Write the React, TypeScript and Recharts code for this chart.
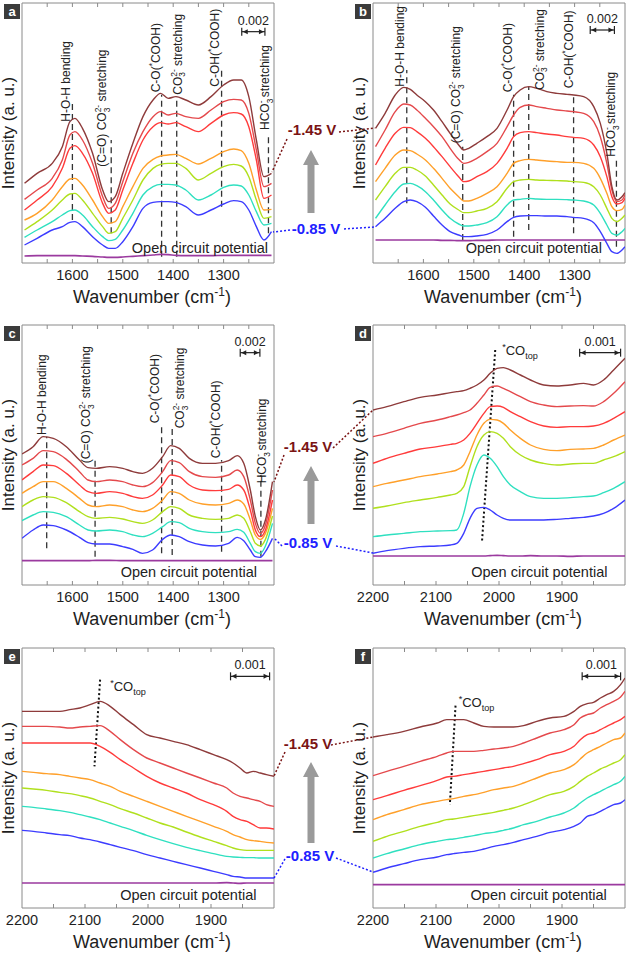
import React from 'react';
import { LineChart, Line, XAxis, YAxis, ReferenceLine, ReferenceArea, ReferenceDot } from 'recharts';

const FONT = '"Liberation Sans", Arial, Helvetica, sans-serif';

// series order: -0.85 V (blue) ... -1.45 V (dark red)
const COLORS = ['#3c3cff', '#2fe0c0', '#b0e01e', '#ffa02a', '#ff3b3b', '#e4494c', '#8e3b3b'];
const OCP_COLOR = '#9b3a9f';

// ---- panel a (1700-1200 cm-1)
const A_WN = [1695, 1670, 1640, 1620, 1605, 1595, 1580, 1560, 1540, 1528, 1515, 1500, 1480, 1460, 1440, 1425, 1410, 1395, 1375, 1350, 1325, 1300, 1280, 1265, 1250, 1235, 1220, 1205];
const A_145 = [239, 269, 299, 349, 424, 434, 404, 329, 219, 184, 199, 269, 359, 439, 489, 509, 494, 499, 489, 474, 499, 534, 549, 549, 499, 369, 259, 269];
const A_135 = [191, 219, 254, 309, 384, 394, 369, 299, 199, 164, 179, 244, 329, 394, 439, 454, 444, 449, 439, 434, 459, 484, 491, 489, 449, 339, 229, 239];
const A_125 = [159, 189, 229, 284, 344, 352, 329, 269, 179, 149, 159, 219, 299, 369, 409, 421, 417, 421, 409, 394, 419, 444, 451, 447, 409, 309, 194, 204];
const A_115 = [129, 149, 189, 229, 252, 254, 234, 189, 139, 119, 124, 169, 229, 284, 311, 321, 324, 326, 314, 297, 314, 334, 342, 337, 299, 219, 159, 161];
const A_105 = [99, 124, 159, 189, 207, 209, 189, 149, 109, 89, 94, 134, 189, 249, 284, 296, 299, 299, 284, 249, 269, 289, 296, 291, 259, 189, 134, 139];
const A_095 = [77, 99, 124, 144, 157, 159, 144, 109, 79, 67, 71, 99, 149, 204, 229, 236, 236, 234, 219, 189, 204, 227, 234, 231, 204, 154, 114, 119];
const A_085 = [54, 74, 99, 109, 122, 124, 109, 79, 54, 44, 44, 64, 109, 164, 182, 184, 184, 182, 169, 144, 159, 177, 187, 184, 159, 109, 69, 94];
const A_OCP = [21, 22, 22, 22, 22, 22, 21, 20, 18, 17, 17, 18, 20, 22, 24, 26, 25, 23, 22, 22, 22, 23, 23, 23, 23, 23, 23, 23];

// ---- panel b
const B_WN = [1695, 1676, 1656, 1639, 1626, 1613, 1596, 1580, 1563, 1547, 1530, 1520, 1510, 1494, 1474, 1454, 1434, 1421, 1408, 1391, 1375, 1355, 1335, 1315, 1302, 1282, 1262, 1249, 1236, 1226, 1216, 1206, 1200];
const B_145 = [404, 449, 504, 527, 521, 504, 484, 459, 424, 389, 354, 339, 344, 359, 379, 404, 459, 499, 519, 529, 524, 514, 509, 506, 504, 499, 469, 419, 329, 229, 189, 199, 211];
const B_135 = [349, 399, 454, 477, 474, 459, 434, 409, 379, 344, 311, 299, 302, 314, 334, 359, 409, 444, 467, 474, 469, 464, 459, 456, 454, 449, 424, 379, 299, 219, 184, 189, 204];
const B_125 = [294, 344, 389, 407, 406, 394, 374, 349, 319, 289, 259, 244, 246, 259, 274, 299, 344, 379, 391, 394, 391, 387, 384, 379, 377, 374, 354, 319, 259, 199, 177, 181, 194];
const B_115 = [244, 284, 324, 339, 337, 327, 309, 284, 254, 224, 199, 186, 186, 194, 209, 229, 269, 299, 307, 311, 309, 306, 304, 302, 302, 299, 284, 254, 209, 169, 157, 161, 174];
const B_105 = [189, 229, 269, 287, 287, 279, 261, 234, 204, 177, 159, 151, 151, 156, 164, 184, 224, 244, 249, 251, 249, 248, 247, 246, 244, 242, 229, 204, 164, 134, 124, 134, 144];
const B_095 = [134, 174, 214, 237, 239, 232, 214, 189, 159, 134, 117, 111, 111, 114, 121, 139, 174, 189, 191, 194, 192, 191, 191, 190, 189, 186, 174, 149, 114, 89, 84, 94, 104];
const B_085 = [109, 134, 164, 184, 189, 184, 167, 141, 114, 94, 84, 79, 79, 81, 86, 99, 124, 137, 141, 142, 142, 141, 141, 139, 137, 134, 121, 94, 59, 34, 29, 39, 49];
const B_OCP = [69, 69, 69, 69, 69, 69, 69, 69, 68, 68, 67, 67, 67, 68, 68, 69, 69, 69, 69, 69, 69, 69, 69, 69, 69, 69, 69, 69, 69, 69, 69, 69, 69];

// ---- panel c
const C_WN = [1700, 1678, 1658, 1638, 1612, 1586, 1569, 1553, 1526, 1500, 1480, 1461, 1441, 1421, 1405, 1388, 1368, 1342, 1316, 1290, 1273, 1260, 1247, 1237, 1227, 1217, 1203];
const C_145 = [393, 415, 445, 440, 415, 375, 352, 350, 355, 350, 340, 335, 350, 385, 418, 410, 380, 365, 365, 373, 388, 365, 285, 205, 165, 195, 310];
const C_135 = [360, 380, 403, 400, 377, 340, 315, 310, 315, 310, 300, 295, 307, 340, 373, 367, 340, 325, 323, 330, 345, 325, 255, 185, 155, 180, 285];
const C_125 = [315, 340, 360, 358, 335, 300, 280, 275, 280, 275, 265, 260, 270, 300, 330, 325, 300, 285, 283, 287, 300, 285, 225, 165, 145, 165, 255];
const C_115 = [275, 295, 310, 310, 290, 260, 240, 235, 240, 235, 225, 220, 230, 255, 280, 275, 255, 243, 240, 245, 255, 243, 195, 150, 137, 155, 230];
const C_105 = [235, 255, 265, 263, 247, 220, 205, 200, 203, 198, 190, 185, 195, 220, 235, 230, 210, 200, 197, 200, 210, 200, 160, 125, 117, 137, 207];
const C_095 = [193, 210, 220, 218, 205, 180, 165, 162, 165, 160, 150, 145, 155, 175, 190, 187, 170, 160, 157, 160, 167, 158, 125, 100, 95, 117, 185];
const C_085 = [140, 165, 180, 178, 165, 143, 127, 123, 123, 115, 107, 95, 105, 137, 150, 145, 130, 120, 117, 125, 143, 133, 105, 85, 83, 100, 140];
const C_OCP = [73, 73, 73, 73, 73, 73, 73, 74, 74, 73, 73, 73, 73, 73, 73, 73, 73, 73, 73, 73, 73, 73, 73, 73, 73, 73, 73];

// ---- panel d (2200-1800 cm-1)
const D_WN = [2200, 2178, 2151, 2125, 2098, 2077, 2067, 2056, 2046, 2035, 2024, 2014, 2003, 1993, 1982, 1966, 1950, 1929, 1908, 1887, 1866, 1850, 1834, 1818, 1800];
const D_145 = [525, 535, 550, 563, 570, 577, 580, 583, 590, 600, 615, 635, 650, 652, 645, 630, 615, 600, 597, 600, 605, 600, 615, 645, 680];
const D_135 = [445, 455, 470, 485, 495, 505, 510, 517, 525, 545, 570, 593, 597, 590, 580, 565, 550, 540, 535, 537, 538, 537, 550, 575, 610];
const D_125 = [365, 380, 395, 408, 415, 422, 425, 435, 455, 485, 515, 535, 537, 533, 520, 505, 490, 477, 473, 475, 475, 477, 485, 500, 520];
const D_115 = [295, 305, 315, 325, 333, 340, 345, 360, 400, 450, 485, 497, 495, 485, 465, 440, 420, 407, 403, 407, 408, 410, 420, 435, 450];
const D_105 = [230, 237, 247, 255, 263, 270, 275, 295, 355, 415, 450, 460, 455, 440, 415, 390, 375, 365, 360, 363, 365, 365, 375, 385, 400];
const D_095 = [145, 150, 155, 160, 162, 163, 165, 215, 295, 360, 390, 380, 355, 325, 300, 280, 265, 260, 260, 262, 265, 267, 277, 290, 310];
const D_085 = [95, 103, 110, 115, 117, 120, 125, 155, 200, 230, 233, 225, 210, 200, 195, 195, 195, 195, 197, 200, 203, 207, 215, 230, 255];
const D_OCP = [87, 87, 87, 87, 87, 87, 87, 87, 87, 87, 87, 88, 89, 88, 87, 87, 88, 87, 87, 86, 87, 87, 87, 87, 87];

// ---- panel e
const E_WN = [2200, 2182, 2161, 2140, 2124, 2108, 2092, 2076, 2060, 2044, 2023, 2002, 1981, 1960, 1939, 1917, 1896, 1875, 1865, 1854, 1843, 1833, 1822, 1812, 1800];
const E_145 = [590, 590, 590, 590, 595, 600, 610, 620, 605, 580, 550, 520, 510, 500, 490, 475, 460, 445, 435, 420, 405, 410, 405, 400, 395];
const E_135 = [545, 545, 545, 543, 540, 543, 545, 547, 530, 505, 475, 450, 435, 420, 405, 390, 375, 360, 345, 335, 330, 325, 320, 310, 305];
const E_125 = [495, 495, 495, 495, 495, 495, 495, 485, 467, 445, 420, 395, 375, 360, 345, 325, 310, 290, 275, 265, 260, 250, 240, 240, 237];
const E_115 = [410, 407, 403, 400, 395, 390, 385, 375, 365, 350, 335, 320, 305, 290, 275, 260, 245, 230, 220, 213, 205, 202, 200, 197, 195];
const E_105 = [360, 357, 353, 347, 343, 337, 330, 320, 310, 298, 285, 270, 255, 243, 228, 213, 200, 187, 180, 175, 173, 173, 173, 173, 173];
const E_095 = [305, 302, 297, 292, 287, 280, 273, 265, 255, 245, 232, 218, 205, 193, 182, 172, 163, 155, 153, 152, 151, 151, 150, 150, 150];
const E_085 = [233, 230, 225, 220, 217, 210, 205, 198, 190, 182, 172, 160, 150, 140, 130, 120, 110, 100, 95, 93, 90, 90, 90, 90, 90];
const E_OCP = [75, 75, 75, 75, 75, 75, 75, 75, 75, 75, 75, 75, 75, 75, 75, 75, 75, 76, 75, 74, 75, 75, 75, 75, 75];

// ---- panel f
const F_WN = [2200, 2178, 2151, 2125, 2098, 2083, 2072, 2056, 2040, 2024, 2008, 1993, 1977, 1961, 1940, 1919, 1897, 1881, 1871, 1860, 1850, 1839, 1829, 1818, 1807, 1800];
const F_145 = [513, 520, 530, 543, 555, 565, 565, 565, 555, 545, 543, 543, 543, 547, 560, 570, 575, 590, 605, 613, 617, 630, 640, 650, 670, 690];
const F_135 = [397, 410, 425, 440, 455, 465, 470, 470, 470, 473, 477, 480, 485, 495, 510, 525, 535, 550, 570, 580, 585, 600, 610, 620, 633, 650];
const F_125 = [325, 337, 353, 367, 383, 393, 395, 400, 405, 410, 415, 420, 425, 433, 445, 460, 470, 485, 505, 520, 525, 535, 545, 555, 565, 575];
const F_115 = [265, 280, 295, 310, 320, 325, 328, 335, 340, 347, 355, 360, 365, 375, 390, 405, 415, 430, 447, 465, 475, 485, 495, 505, 510, 525];
const F_105 = [200, 215, 230, 245, 257, 265, 267, 272, 277, 282, 287, 293, 300, 310, 325, 340, 350, 365, 380, 395, 405, 417, 425, 435, 445, 460];
const F_095 = [150, 163, 177, 190, 200, 205, 207, 212, 217, 223, 227, 233, 240, 250, 260, 273, 285, 300, 315, 330, 340, 350, 360, 370, 380, 395];
const F_085 = [107, 120, 133, 145, 153, 160, 163, 167, 170, 177, 185, 190, 197, 205, 215, 227, 235, 245, 255, 275, 280, 290, 300, 310, 315, 325];
const F_OCP = [70, 70, 70, 70, 70, 70, 70, 70, 70, 70, 70, 70, 70, 70, 70, 70, 70, 70, 70, 70, 70, 70, 70, 70, 70, 70];

const LOW_LABELS = [1600, 1500, 1400, 1300];
const LOW_MINOR = [1650, 1600, 1550, 1500, 1450, 1400, 1350, 1300, 1250];
const HIGH_LABELS = [2200, 2100, 2000, 1900];
const HIGH_MINOR = [2150, 2100, 2050, 2000, 1950, 1900, 1850];

type Seg = { t: string; k?: 'sub' | 'sup' | 'stack' };

const HOH: Seg[] = [{ t: 'H-O-H bending' }];
const CEO: Seg[] = [{ t: '(C=O) CO' }, { t: '3', k: 'sub' }, { t: '2-', k: 'stack' }, { t: ' stretching' }];
const CO_COOH: Seg[] = [{ t: 'C-O(' }, { t: '*', k: 'sup' }, { t: 'COOH)' }];
const CO3: Seg[] = [{ t: 'CO' }, { t: '3', k: 'sub' }, { t: '2-', k: 'stack' }, { t: ' stretching' }];
const COH: Seg[] = [{ t: 'C-OH(' }, { t: '*', k: 'sup' }, { t: 'COOH)' }];
const HCO3: Seg[] = [{ t: 'HCO' }, { t: '3', k: 'sub' }, { t: '-', k: 'stack' }, { t: ' stretching' }];
const COTOP: Seg[] = [{ t: '*', k: 'sup' }, { t: 'CO' }, { t: 'top', k: 'sub' }];

type Mark = { x: number; y1: number; y2: number; lx: number; ly: number; text: Seg[] };

const A_MARKS: Mark[] = [
  { x: 1600, y1: 129, y2: 489, lx: 1605, ly: 424, text: HOH },
  { x: 1523, y1: 89, y2: 369, lx: 1533, ly: 289, text: CEO },
  { x: 1423, y1: 19, y2: 505, lx: 1426, ly: 512, text: CO_COOH },
  { x: 1393, y1: 19, y2: 500, lx: 1383, ly: 505, text: CO3 },
  { x: 1304, y1: 169, y2: 584, lx: 1309, ly: 529, text: COH },
  { x: 1211, y1: 89, y2: 389, lx: 1209, ly: 399, text: HCO3 },
];
const B_MARKS: Mark[] = [
  { x: 1633, y1: 179, y2: 579, lx: 1638, ly: 529, text: HOH },
  { x: 1522, y1: 69, y2: 349, lx: 1527, ly: 359, text: CEO },
  { x: 1421, y1: 79, y2: 505, lx: 1424, ly: 512, text: CO_COOH },
  { x: 1391, y1: 99, y2: 529, lx: 1361, ly: 519, text: CO3 },
  { x: 1302, y1: 89, y2: 509, lx: 1304, ly: 524, text: COH },
  { x: 1217, y1: 49, y2: 309, lx: 1220, ly: 319, text: HCO3 },
];
const C_MARKS: Mark[] = [
  { x: 1651, y1: 110, y2: 445, lx: 1653, ly: 450, text: HOH },
  { x: 1555, y1: 85, y2: 385, lx: 1565, ly: 365, text: CEO },
  { x: 1423, y1: 95, y2: 480, lx: 1428, ly: 485, text: CO_COOH },
  { x: 1402, y1: 90, y2: 470, lx: 1378, ly: 470, text: CO3 },
  { x: 1304, y1: 100, y2: 375, lx: 1307, ly: 380, text: COH },
  { x: 1226, y1: 85, y2: 330, lx: 1215, ly: 305, text: HCO3 },
];

type Panel = {
  id: string; left: number; top: number;
  wn: number[]; series: number[][]; ocp: number[];
  domain: [number, number]; labels: number[]; minor: number[];
  marks: Mark[];
  scale: { x1: number; x2: number; y: number; label: string };
  ocpText: { x: number; y: number };
  co?: { x1: number; y1: number; x2: number; y2: number; lx: number; ly: number };
};

const PANELS: Panel[] = [
  { id: 'a', left: 0, top: 0, wn: A_WN, series: [A_085, A_095, A_105, A_115, A_125, A_135, A_145], ocp: A_OCP,
    domain: [1200, 1700], labels: LOW_LABELS, minor: LOW_MINOR, marks: A_MARKS,
    scale: { x1: 1264, x2: 1218, y: 694, label: '0.002' }, ocpText: { x: 1347, y: 29 } },
  { id: 'b', left: 351, top: 0, wn: B_WN, series: [B_085, B_095, B_105, B_115, B_125, B_135, B_145], ocp: B_OCP,
    domain: [1200, 1700], labels: LOW_LABELS, minor: LOW_MINOR, marks: B_MARKS,
    scale: { x1: 1269, x2: 1221, y: 699, label: '0.002' }, ocpText: { x: 1381, y: 29 } },
  { id: 'c', left: 0, top: 322, wn: C_WN, series: [C_085, C_095, C_105, C_115, C_125, C_135, C_145], ocp: C_OCP,
    domain: [1200, 1700], labels: LOW_LABELS, minor: LOW_MINOR, marks: C_MARKS,
    scale: { x1: 1267, x2: 1228, y: 697, label: '0.002' }, ocpText: { x: 1369, y: 25 } },
  { id: 'd', left: 351, top: 322, wn: D_WN, series: [D_085, D_095, D_105, D_115, D_125, D_135, D_145], ocp: D_OCP,
    domain: [1800, 2200], labels: HIGH_LABELS, minor: HIGH_MINOR, marks: [],
    scale: { x1: 1872, x2: 1807, y: 697, label: '0.001' }, ocpText: { x: 1936, y: 25 },
    co: { x1: 2006, y1: 705, x2: 2027, y2: 130, lx: 1995, ly: 690 } },
  { id: 'e', left: 0, top: 645, wn: E_WN, series: [E_085, E_095, E_105, E_115, E_125, E_135, E_145], ocp: E_OCP,
    domain: [1800, 2200], labels: HIGH_LABELS, minor: HIGH_MINOR, marks: [],
    scale: { x1: 1869, x2: 1807, y: 695, label: '0.001' }, ocpText: { x: 1936, y: 25 },
    co: { x1: 2076, y1: 685, x2: 2085, y2: 425, lx: 2060, ly: 650 } },
  { id: 'f', left: 351, top: 645, wn: F_WN, series: [F_085, F_095, F_105, F_115, F_125, F_135, F_145], ocp: F_OCP,
    domain: [1800, 2200], labels: HIGH_LABELS, minor: HIGH_MINOR, marks: [],
    scale: { x1: 1868, x2: 1807, y: 695, label: '0.001' }, ocpText: { x: 1937, y: 25 },
    co: { x1: 2069, y1: 607, x2: 2078, y2: 310, lx: 2064, ly: 603 } },
];

function spans(segs: Seg[], size: number) {
  let cur = 0;
  let lastSub = '';
  return segs.map((s, i) => {
    const fs = s.k ? size * 0.7 : size;
    const target = s.k === 'sub' ? size * 0.3 : s.k ? -size * 0.42 : 0;
    const dy = target - cur;
    cur = target;
    const dx = s.k === 'stack' ? -lastSub.length * size * 0.7 * 0.556 : 0;
    if (s.k === 'sub') lastSub = s.t;
    return (
      <tspan key={i} dy={dy} dx={dx} fontSize={fs}>{s.t}</tspan>
    );
  });
}

const vLabel = (segs: Seg[]) => (p: any) => (
  <text x={p.cx} y={p.cy} transform={`rotate(-90 ${p.cx} ${p.cy})`} fontSize={12} fill="#222" fontFamily={FONT}>
    {spans(segs, 12)}
  </text>
);

const hLabel = (segs: Seg[], size: number, anchor: 'start' | 'middle') => (p: any) => (
  <text x={p.cx} y={p.cy} textAnchor={anchor} fontSize={size} fill="#222" fontFamily={FONT}>
    {spans(segs, size)}
  </text>
);

const scaleBar = (label: string) => (p: any) => {
  const l = Math.min(p.x1, p.x2);
  const r = Math.max(p.x1, p.x2);
  const y = p.y1;
  return (
    <g>
      <line x1={l} y1={y} x2={r} y2={y} stroke="#222" strokeWidth={1.2} />
      <line x1={l} y1={y - 4} x2={l} y2={y + 4} stroke="#222" strokeWidth={1.2} />
      <line x1={r} y1={y - 4} x2={r} y2={y + 4} stroke="#222" strokeWidth={1.2} />
      <path d={`M${l + 1},${y} l5,-2.5 v5 z`} fill="#222" />
      <path d={`M${r - 1},${y} l-5,-2.5 v5 z`} fill="#222" />
      <text x={(l + r) / 2} y={y - 7} textAnchor="middle" fontSize={12.5} fill="#222" fontFamily={FONT}>{label}</text>
    </g>
  );
};

const xLabel = (p: any) => {
  const vb = p.viewBox || {};
  const x = vb.x + vb.width / 2 + 4;
  const y = vb.y + 40;
  return (
    <text x={x} y={y} textAnchor="middle" fontSize={18} fill="#1e1e1e" fontFamily={FONT}>
      Wavenumber (cm<tspan dy={-7} fontSize={12}>-1</tspan><tspan dy={7}>)</tspan>
    </text>
  );
};

const yLabel = (p: any) => {
  const vb = p.viewBox || {};
  const x = vb.x + 14;
  const y = vb.y + vb.height / 2;
  return (
    <text x={x} y={y} transform={`rotate(-90 ${x} ${y})`} textAnchor="middle" fontSize={17} fill="#1e1e1e" fontFamily={FONT}>
      Intensity (a. u.)
    </text>
  );
};

function SpectraPanel({ p }: { p: Panel }) {
  const data = p.wn.map((w, i) => {
    const row: Record<string, number> = { wn: w, ocp: p.ocp[i] };
    p.series.forEach((s, j) => { row['s' + j] = s[i]; });
    return row;
  });
  const [lo, hi] = p.domain;
  return (
    <div style={{ position: 'absolute', left: p.left, top: p.top }}>
      <LineChart width={278} height={308} data={data} margin={{ top: 3, right: 4, bottom: 0, left: 0 }}>
        <XAxis type="number" dataKey="wn" domain={[lo, hi]} reversed allowDataOverflow ticks={p.labels} interval={0}
          tickLine={false} axisLine={false} height={45} tickSize={6} tickMargin={1}
          tick={{ fontSize: 14.5, fill: '#1e1e1e', fontFamily: FONT }} label={xLabel} />
        <YAxis type="number" domain={[0, 780]} allowDataOverflow width={22} tick={false} tickLine={false} axisLine={false} label={yLabel} />
        <ReferenceArea x1={lo} x2={hi} y1={0} y2={780} fill="none" stroke="#8a8a8a" strokeWidth={1} ifOverflow="visible" />
        {p.minor.map((t) => (
          <ReferenceLine key={'bt' + t} segment={[{ x: t, y: 0 }, { x: t, y: 12 }]} stroke="#8a8a8a" />
        ))}
        {p.minor.map((t) => (
          <ReferenceLine key={'tt' + t} segment={[{ x: t, y: 768 }, { x: t, y: 780 }]} stroke="#8a8a8a" />
        ))}
        {p.marks.map((m, i) => (
          <ReferenceLine key={'m' + i} segment={[{ x: m.x, y: m.y1 }, { x: m.x, y: m.y2 }]} stroke="#333" strokeDasharray="6 4" strokeWidth={1.3} />
        ))}
        {p.marks.map((m, i) => (
          <ReferenceDot key={'ml' + i} x={m.lx} y={m.ly} r={0} shape={vLabel(m.text)} />
        ))}
        {p.co && (
          <ReferenceLine segment={[{ x: p.co.x1, y: p.co.y1 }, { x: p.co.x2, y: p.co.y2 }]} stroke="#111" strokeDasharray="2 2.5" strokeWidth={2} />
        )}
        {p.co && <ReferenceDot x={p.co.lx} y={p.co.ly} r={0} shape={hLabel(COTOP, 13, 'start')} />}
        <ReferenceLine segment={[{ x: p.scale.x1, y: p.scale.y }, { x: p.scale.x2, y: p.scale.y }]} shape={scaleBar(p.scale.label)} />
        <ReferenceDot x={p.ocpText.x} y={p.ocpText.y} r={0} shape={hLabel([{ t: 'Open circuit potential' }], 14.5, 'middle')} />
        <Line type="monotone" dataKey="ocp" stroke={OCP_COLOR} strokeWidth={1.6} dot={false} isAnimationActive={false} />
        {p.series.map((_, j) => (
          <Line key={j} type="monotone" dataKey={'s' + j} stroke={COLORS[j]} strokeWidth={1.4} dot={false} isAnimationActive={false} />
        ))}
      </LineChart>
    </div>
  );
}

// middle annotations between the two columns (potential labels, arrows, connectors)
const ROWS = [
  { hi: [312, 135], lo: [316, 234], arrow: [150, 213],
    hiLinks: [[287, 139, 272, 172], [339, 132, 375, 128]], loLinks: [[290, 230, 273, 232], [344, 229, 375, 227]] },
  { hi: [308, 452], lo: [308, 548], arrow: [466, 524],
    hiLinks: [[284, 455, 274, 482], [333, 448, 373, 410]], loLinks: [[282, 546, 274, 538], [336, 546, 373, 553]] },
  { hi: [308, 749], lo: [310, 861], arrow: [762, 843],
    hiLinks: [[285, 752, 274, 776], [331, 745, 373, 737]], loLinks: [[285, 859, 274, 878], [336, 858, 373, 872]] },
];

function Overlay() {
  return (
    <svg width={627} height={954} style={{ position: 'absolute', left: 0, top: 0, pointerEvents: 'none' }}>
      {PANELS.map((p) => (
        <g key={p.id}>
          <rect x={p.left + 4} y={p.top + 4} width={16} height={15} fill="#3b3b3b" />
          <text x={p.left + 12} y={p.top + 16} textAnchor="middle" fontSize={13} fontWeight="bold" fill="#fff" fontFamily={FONT}>{p.id}</text>
        </g>
      ))}
      {ROWS.map((r, i) => (
        <g key={i}>
          {r.hiLinks.map((l, k) => (
            <line key={'h' + k} x1={l[0]} y1={l[1]} x2={l[2]} y2={l[3]} stroke="#7a1414" strokeWidth={1.5} strokeDasharray="2 2" />
          ))}
          {r.loLinks.map((l, k) => (
            <line key={'l' + k} x1={l[0]} y1={l[1]} x2={l[2]} y2={l[3]} stroke="#2020ff" strokeWidth={1.5} strokeDasharray="2 2" />
          ))}
          <text x={r.hi[0]} y={r.hi[1]} textAnchor="middle" fontSize={15} fontWeight="bold" fill="#7a1414" fontFamily={FONT}>-1.45 V</text>
          <text x={r.lo[0]} y={r.lo[1]} textAnchor="middle" fontSize={15} fontWeight="bold" fill="#2020ff" fontFamily={FONT}>-0.85 V</text>
          <path
            d={`M311,${r.arrow[0]} L319,${r.arrow[0] + 15} L314.5,${r.arrow[0] + 15} L314.5,${r.arrow[1]} L307.5,${r.arrow[1]} L307.5,${r.arrow[0] + 15} L303,${r.arrow[0] + 15} Z`}
            fill="#9a9a9a"
          />
        </g>
      ))}
    </svg>
  );
}

export default function App() {
  return (
    <div style={{ position: 'absolute', left: 0, top: 0, width: 627, height: 954, background: '#fff', overflow: 'hidden', fontFamily: FONT }}>
      {PANELS.map((p) => <SpectraPanel key={p.id} p={p} />)}
      <Overlay />
    </div>
  );
}
